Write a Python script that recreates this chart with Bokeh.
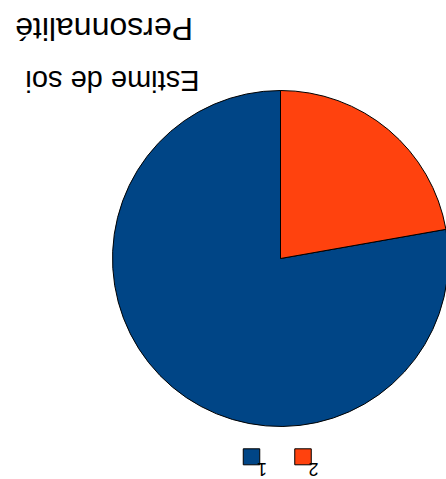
import numpy as np
from bokeh.plotting import figure
from bokeh.models import Range1d, ColumnDataSource
from bokeh.core.properties import value
from bokeh.embed import file_html
from bokeh.resources import INLINE

# ---- data ----
title = "Personnalité"
subtitle = "Estime de soi"
labels = ["1", "2"]
values = [7, 2]
colors = ["#004586", "#ff420e"]

# ---- layout (screen pixel coordinates; y flipped into data space) ----
W, H = 446, 479


def Y(py):
    return H - py


p = figure(width=W, height=H, output_backend="svg", toolbar_location=None,
           x_range=Range1d(0, W), y_range=Range1d(0, H),
           x_axis_type=None, y_axis_type=None, min_border=0,
           background_fill_color="white", border_fill_color="white")
p.grid.visible = False
p.outline_line_color = None

# pie (the whole chart is shown rotated by 180 degrees)
vals = np.array(values, dtype=float)
frac = vals / vals.sum()
cum = np.concatenate([[0.0], np.cumsum(frac)])
start = np.pi / 2 + 2 * np.pi * cum[:-1]
end = np.pi / 2 + 2 * np.pi * cum[1:]
src = ColumnDataSource(dict(start=start, end=end, color=colors, label=labels))
p.wedge(x=280, y=Y(258), radius=168, start_angle="start", end_angle="end",
        fill_color="color", line_color="black", line_width=1, source=src)

font = value("Liberation Sans")
p.text(x=[192.5], y=[Y(28)], text=[title], angle=np.pi, text_align="left",
       text_baseline="alphabetic", text_font=font, text_font_size="32px",
       text_color="black")
p.text(x=[199], y=[Y(80)], text=[subtitle], angle=np.pi, text_align="left",
       text_baseline="alphabetic", text_font=font, text_font_size="29px",
       text_color="black")

# legend (rotated)
idx = np.arange(len(labels))
lx = 251 + 51.5 * idx
leg = ColumnDataSource(dict(x=lx, y=[Y(456.3)] * len(labels), tx=lx + 15.5,
                            ty=[Y(469)] * len(labels), color=colors, label=labels))
p.rect(x="x", y="y", width=16.5, height=16, fill_color="color",
       line_color="black", line_width=1, source=leg)
p.text(x="tx", y="ty", text="label", angle=np.pi, text_align="left",
       text_baseline="alphabetic", text_font=font, text_font_size="18px",
       text_color="black", source=leg)

open("out.html", "w").write(file_html(p, INLINE))
